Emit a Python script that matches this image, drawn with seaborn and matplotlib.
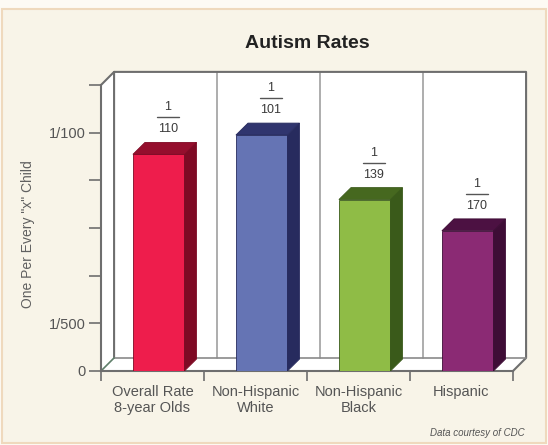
import pandas as pd
import seaborn as sns
import matplotlib.pyplot as plt
from matplotlib.patches import Polygon, Rectangle
from matplotlib.transforms import offset_copy

# data
groups = ['Overall Rate\n8-year Olds', 'Non-Hispanic\nWhite', 'Non-Hispanic\nBlack', 'Hispanic']
one_in = [110, 101, 139, 170]
front_colors = ['#ee1d4c', '#6574b4', '#8fbc46', '#8b2a74']
side_colors = ['#7e0a24', '#272b5e', '#3a5a1a', '#3e0d36']
top_colors = ['#950e2d', '#30356e', '#46681f', '#4c1142']
ytick_vals = [0, 0.002, 0.004, 0.006, 0.008, 0.010, 0.012]
ytick_labels = ['0', '1/500', '', '', '', '1/100', '']

df = pd.DataFrame({'group': groups, 'rate': [1 / n for n in one_in]})

sns.set_style('white')
plt.rcParams['font.family'] = ['Liberation Sans', 'DejaVu Sans']

W, H = 548, 445
fig = plt.figure(figsize=(W / 100, H / 100), dpi=100, facecolor='#fdfaf4')
fig.patches.append(Rectangle((2 / W, 2 / H), 544 / W, 434 / H, transform=fig.transFigure,
                             facecolor='#f8f4e8', edgecolor='#efd9bd', lw=1.5, zorder=-10))

ax = fig.add_axes([101 / W, 74 / H, 412 / W, 286 / H])
ax.set_facecolor('none')

sns.barplot(data=df, x='group', y='rate', hue='group', palette=front_colors, saturation=1,
            width=0.5, legend=False, ax=ax, zorder=3)
bars = sorted(ax.patches, key=lambda p: p.get_x())
for p in bars:
    p.set_x(p.get_x() + 0.06)

ax.set_xlim(-0.5, 3.5)
ax.set_ylim(0, 0.012)

# depth of the fake 3d walls and bars, in data units
dxw, dyw = 0.127, 0.00055
dxb, dyb = 0.117, 0.0005
frame = '#6e6e6e'

# floor, left wall, back wall
x0, x1, ytop = -0.5, 3.5, 0.012
ax.add_patch(Polygon([(x0, 0), (x1, 0), (x1 + dxw, dyw), (x0 + dxw, dyw)], closed=True,
                     facecolor='white', edgecolor='none', clip_on=False, zorder=0))
ax.add_patch(Polygon([(x0, 0), (x0 + dxw, dyw), (x0 + dxw, ytop + dyw), (x0, ytop)], closed=True,
                     facecolor='white', edgecolor='none', clip_on=False, zorder=0))
ax.add_patch(Rectangle((x0 + dxw, dyw), x1 - x0, ytop, facecolor='white', edgecolor='none',
                       clip_on=False, zorder=0))
for xd in [0.5, 1.5, 2.5]:
    ax.plot([xd + dxw, xd + dxw], [dyw, ytop + dyw], color='#a0a0a0', lw=1.2, clip_on=False, zorder=1)
ax.plot([x0 + dxw, x0 + dxw, x1 + dxw, x1 + dxw, x1],
        [dyw, ytop + dyw, ytop + dyw, dyw, 0], color=frame, lw=1.5, clip_on=False, zorder=1)
ax.plot([x0 + dxw, x1 + dxw], [dyw, dyw], color='#8a8a8a', lw=1.2, clip_on=False, zorder=1)
ax.plot([x0, x0 + dxw], [ytop, ytop + dyw], color=frame, lw=1.5, clip_on=False, zorder=1)
ax.plot([x0, x0 + dxw], [0, dyw], color='#5f7f6a', lw=1.2, clip_on=False, zorder=1)

# sides and tops of the bars, plus the fraction labels
for p, n, sc, tc in zip(bars, one_in, side_colors, top_colors):
    bx0, bx1, h = p.get_x(), p.get_x() + p.get_width(), p.get_height()
    p.set_edgecolor(sc)
    p.set_linewidth(0.6)
    ax.add_patch(Polygon([(bx1, 0), (bx1 + dxb, dyb), (bx1 + dxb, h + dyb), (bx1, h)], closed=True,
                         facecolor=sc, edgecolor=sc, lw=0.6, zorder=3))
    ax.add_patch(Polygon([(bx0, h), (bx0 + dxb, h + dyb), (bx1 + dxb, h + dyb), (bx1, h)], closed=True,
                         facecolor=tc, edgecolor=sc, lw=0.6, zorder=3))
    xc = (bx0 + bx1) / 2 + 0.09
    yt = h + dyb
    ax.text(xc, yt, str(n), transform=offset_copy(ax.transData, fig=fig, y=13, units='dots'),
            ha='center', va='center', fontsize=9, color='#3a3a3a')
    ax.plot([xc - 0.11, xc + 0.11], [yt, yt], color='#555555', lw=1,
            transform=offset_copy(ax.transData, fig=fig, y=25, units='dots'))
    ax.text(xc, yt, '1', transform=offset_copy(ax.transData, fig=fig, y=35, units='dots'),
            ha='center', va='center', fontsize=9, color='#3a3a3a')

# axes styling
for side in ['top', 'right']:
    ax.spines[side].set_visible(False)
for side in ['left', 'bottom']:
    ax.spines[side].set_color(frame)
    ax.spines[side].set_linewidth(1.5)
    ax.spines[side].set_zorder(2)

ax.set_yticks(ytick_vals, ytick_labels)
ax.tick_params(axis='y', left=True, length=9, width=1.2, color=frame, labelsize=10.5,
               labelcolor='#555555', pad=2)
ax.set_xticks([-0.5, 0.5, 1.5, 2.5, 3.5], minor=True)
ax.tick_params(axis='x', which='major', length=0, pad=10, labelsize=10.5, labelcolor='#555555')
ax.tick_params(axis='x', which='minor', bottom=True, length=7, width=1.2, color=frame)

ax.set_xlabel('')
ax.set_ylabel('One Per Every "x" Child', fontsize=10, color='#606060')
ax.yaxis.set_label_coords(-0.16, 0.48)
ax.set_title('Autism Rates', fontsize=14, fontweight='bold', color='#222222', pad=27)

fig.text(525 / W, (H - 433) / H, 'Data courtesy of CDC', ha='right', va='center',
         fontsize=7, style='italic', color='#555555')

fig.savefig('out.png', dpi=100, facecolor=fig.get_facecolor())
